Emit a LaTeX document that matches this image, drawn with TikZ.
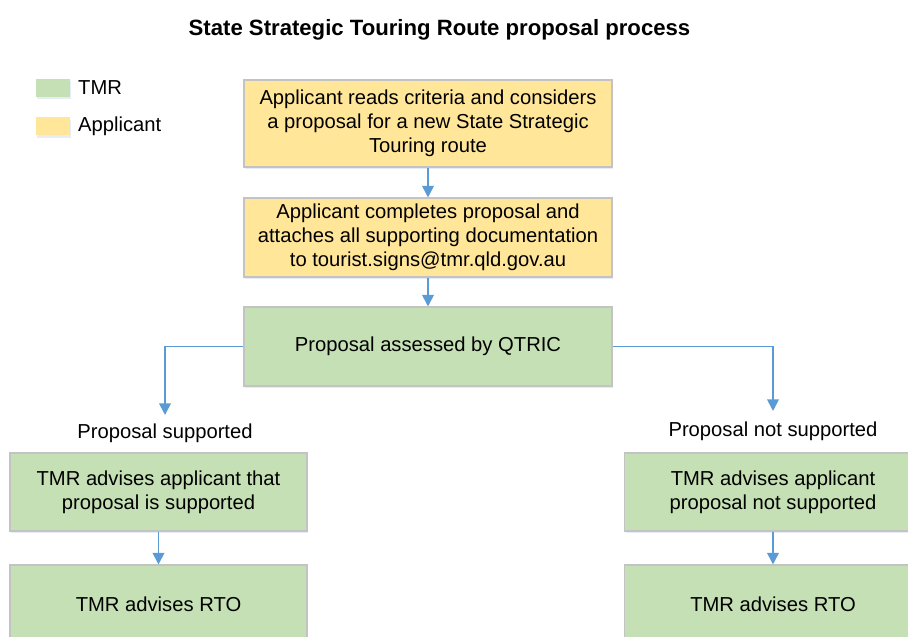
\documentclass[tikz,border=0pt]{standalone}
\usepackage{fontspec}
\setmainfont{Liberation Sans}
\usepackage{tikz}
\usetikzlibrary{arrows.meta,shadows}

\definecolor{tmrgreen}{HTML}{C5E0B4}
\definecolor{appyellow}{HTML}{FFE699}
\definecolor{flowblue}{HTML}{5B9BD5}
\definecolor{boxline}{HTML}{C3C3C3}
\definecolor{shade}{HTML}{9FB4D8}

\tikzset{
  stepbox/.style={draw=boxline, line width=0.6pt, align=center, inner sep=0pt,
    font=\fontsize{11.5}{13.8}\selectfont,
    drop shadow={shadow xshift=0.8pt, shadow yshift=-1.4pt, opacity=0.25, fill=shade}},
  tmr/.style={stepbox, fill=tmrgreen},
  applicant/.style={stepbox, fill=appyellow},
  keybox/.style={minimum width=0.68cm, minimum height=0.36cm, inner sep=0pt,
    drop shadow={shadow xshift=0.8pt, shadow yshift=-1.4pt, opacity=0.25, fill=shade}},
  label/.style={font=\fontsize{11.5}{13.8}\selectfont},
  flow/.style={draw=flowblue, line width=1pt, -{Triangle[width=6.6pt,length=6.6pt]}}
}

\begin{document}
\begin{tikzpicture}

        \clip (0,0) rectangle (18.16,-12.74);

        %Title
        \node [font=\fontsize{12.6}{15}\selectfont\bfseries] (title) at (8.79,-0.60)
          {State Strategic Touring Route proposal process};

        %Legend
        \node [keybox, fill=tmrgreen] (keytmr) at (1.06,-1.76) {};
        \node [label, anchor=west] (keytmrtxt) at (1.44,-1.76) {TMR};
        \node [keybox, fill=appyellow] (keyapp) at (1.06,-2.53) {};
        \node [label, anchor=west] (keyapptxt) at (1.44,-2.53) {Applicant};

        %Applicant steps
        \node [applicant, minimum width=7.36cm, minimum height=1.74cm] (reads) at (8.56,-2.47)
          {Applicant reads criteria and considers\\a proposal for a new State Strategic\\Touring route};
        \node [applicant, minimum width=7.36cm, minimum height=1.58cm] (completes) at (8.56,-4.75)
          {Applicant completes proposal and\\attaches all supporting documentation\\to tourist.signs@tmr.qld.gov.au};

        %Assessment
        \node [tmr, minimum width=7.36cm, minimum height=1.58cm] (assess) at (8.56,-6.93)
          {Proposal assessed by QTRIC};

        %Supported branch
        \coordinate (yesend) at (3.30,-8.30);
        \node [label] (yes) at (3.30,-8.67) {Proposal supported};
        \node [tmr, minimum width=5.94cm, minimum height=1.56cm] (yesadvise) at (3.17,-9.84)
          {TMR advises applicant that\\proposal is supported};
        \node [tmr, minimum width=5.94cm, minimum height=1.56cm] (yesrto) at (3.17,-12.08)
          {TMR advises RTO};

        %Not supported branch
        \coordinate (noend) at (15.46,-8.22);
        \node [label] (no) at (15.46,-8.62) {Proposal not supported};
        \node [tmr, minimum width=5.94cm, minimum height=1.56cm] (noadvise) at (15.46,-9.84)
          {TMR advises applicant\\proposal not supported};
        \node [tmr, minimum width=5.94cm, minimum height=1.56cm] (norto) at (15.46,-12.08)
          {TMR advises RTO};

        %Arrows
        \draw [flow] (reads) -- (completes);
        \draw [flow] (completes) -- (assess);
        \draw [flow] (assess.west) -| (yesend);
        \draw [flow] (assess.east) -| (noend);
        \draw [flow] (yesadvise) -- (yesrto);
        \draw [flow] (noadvise) -- (norto);

      \end{tikzpicture}
\end{document}
